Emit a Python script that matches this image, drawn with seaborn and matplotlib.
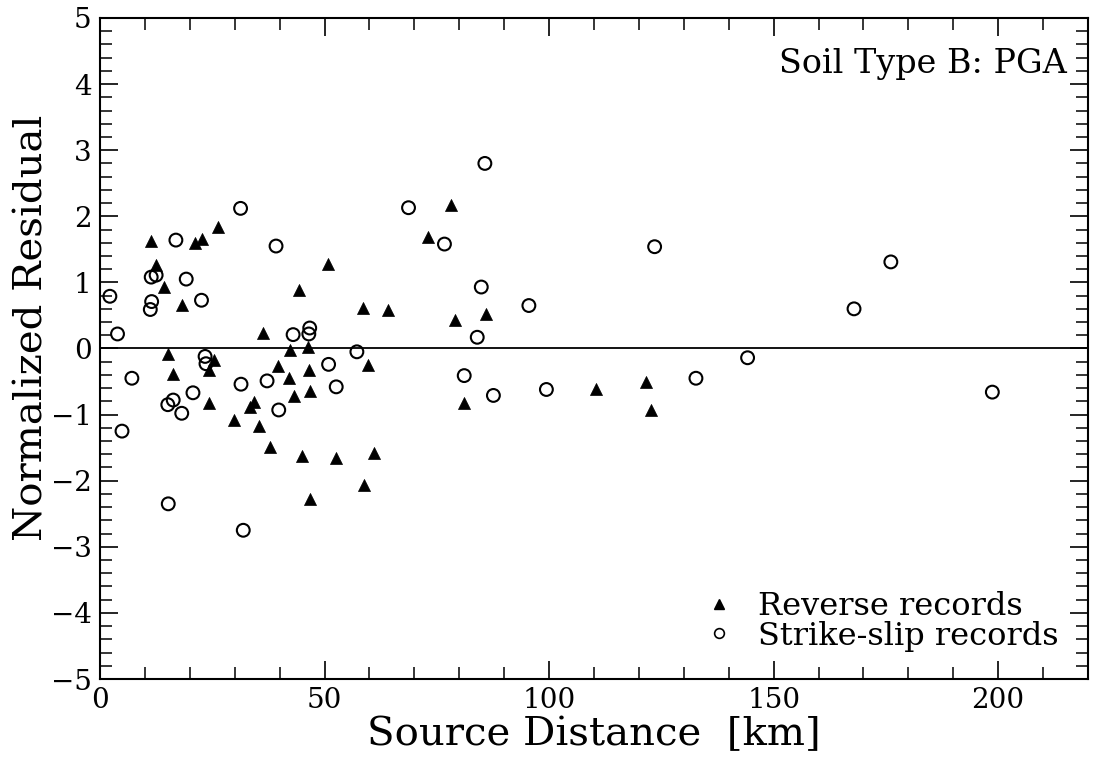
import numpy as np
import pandas as pd
import matplotlib
matplotlib.use("Agg")
import matplotlib.pyplot as plt
import seaborn as sns
from matplotlib.ticker import MultipleLocator
from matplotlib.lines import Line2D

# ---- data ----
reverse_dist = [11.3, 21.2, 22.8, 26.3, 12.5, 50.8, 14.2, 44.3, 18.2, 58.6,
                64.1, 36.3, 42.4, 46.4, 15.1, 25.4, 24.3, 16.3, 39.6, 46.5,
                42.0, 59.7, 46.8, 43.2, 24.3, 33.5, 34.3, 29.8, 35.5, 37.9,
                44.9, 52.6, 61.0, 58.8, 46.8, 78.2, 73.1, 79.1, 86.0, 81.1,
                110.5, 121.5, 122.7]
reverse_resid = [1.62, 1.59, 1.66, 1.84, 1.27, 1.28, 0.93, 0.88, 0.66, 0.62,
                 0.59, 0.23, -0.02, 0.02, -0.09, -0.18, -0.33, -0.39, -0.27, -0.33,
                 -0.44, -0.25, -0.64, -0.72, -0.82, -0.88, -0.81, -1.08, -1.17, -1.49,
                 -1.63, -1.65, -1.58, -2.06, -2.28, 2.17, 1.69, 0.43, 0.52, -0.82,
                 -0.62, -0.50, -0.93]

strike_dist = [31.3, 16.9, 39.2, 11.4, 12.5, 19.2, 2.2, 11.5, 11.2, 22.6,
               3.9, 43.0, 46.7, 46.5, 57.2, 23.4, 23.6, 7.1, 50.9, 31.4,
               37.2, 52.6, 20.7, 15.1, 16.3, 18.2, 39.8, 4.9, 15.2, 31.9,
               85.7, 68.7, 76.7, 123.5, 84.9, 95.5, 84.0, 81.1, 87.6, 99.4,
               176.1, 167.9, 144.2, 132.7, 198.7]
strike_resid = [2.12, 1.64, 1.55, 1.08, 1.11, 1.05, 0.79, 0.71, 0.59, 0.73,
                0.22, 0.21, 0.31, 0.22, -0.05, -0.12, -0.23, -0.45, -0.24, -0.54,
                -0.49, -0.58, -0.67, -0.85, -0.78, -0.98, -0.93, -1.25, -2.35, -2.75,
                2.80, 2.13, 1.58, 1.54, 0.93, 0.65, 0.17, -0.41, -0.71, -0.62,
                1.31, 0.60, -0.14, -0.45, -0.66]

x_ticks = [0, 50, 100, 150, 200]
y_ticks = [5, 4, 3, 2, 1, 0, -1, -2, -3, -4, -5]
legend_labels = ["Reverse records", "Strike-slip records"]
annotation = "Soil Type B: PGA"
x_label = "Source Distance  [km]"
y_label = "Normalized Residual"

# ---- style ----
sns.set_theme(style="ticks")
plt.rcParams['font.family'] = ['DejaVu Serif']
plt.rcParams['axes.unicode_minus'] = True
plt.rcParams['text.color'] = 'black'
plt.rcParams['axes.labelcolor'] = 'black'
plt.rcParams['xtick.color'] = 'black'
plt.rcParams['ytick.color'] = 'black'

fig = plt.figure(figsize=(11.03, 7.65), dpi=100)
ax = fig.add_axes([100/1103, 1-679/765, 988/1103, 661/765])

df_r = pd.DataFrame({"dist": reverse_dist, "resid": reverse_resid})
df_s = pd.DataFrame({"dist": strike_dist, "resid": strike_resid})

ax.axhline(0, color="black", lw=1.3, zorder=1)
sns.scatterplot(data=df_r, x="dist", y="resid", marker="^", s=75,
                color="black", edgecolor="black", linewidth=0.5, ax=ax,
                legend=False, zorder=3)
sns.scatterplot(data=df_s, x="dist", y="resid", marker="o", s=85,
                facecolor="none", edgecolor="black", linewidth=1.5, ax=ax,
                legend=False, zorder=3)

ax.set_xlim(0, 220)
ax.set_ylim(-5, 5)
ax.set_xticks(x_ticks)
ax.set_yticks(y_ticks)
ax.xaxis.set_minor_locator(MultipleLocator(10))
ax.yaxis.set_minor_locator(MultipleLocator(0.2))
ax.tick_params(which="both", direction="in", top=True, right=True,
               color="black", labelcolor="black")
ax.tick_params(which="major", length=13, width=1.2, labelsize=20, pad=6)
ax.tick_params(which="minor", length=8.5, width=1.1)
for sp in ax.spines.values():
    sp.set_linewidth(1.5)
    sp.set_color("black")

ax.set_xlabel(x_label, fontsize=29, labelpad=1)
ax.set_ylabel(y_label, fontsize=29)
ax.yaxis.set_label_coords(-0.05, 0.531)

ax.text(0.979, 0.917, annotation, transform=ax.transAxes, ha="right",
        va="baseline", fontsize=24)

handles = [Line2D([], [], marker="^", color="black", ls="none", markersize=7),
           Line2D([], [], marker="o", markerfacecolor="none",
                  markeredgecolor="black", ls="none", markersize=7,
                  markeredgewidth=1.2)]
ax.legend(handles, legend_labels, loc="lower right",
          bbox_to_anchor=(0.983, 0.022), frameon=False, fontsize=23,
          handletextpad=0.7, labelspacing=-0.05, borderaxespad=0,
          handlelength=1.0)

fig.savefig("out.png", dpi=100)
